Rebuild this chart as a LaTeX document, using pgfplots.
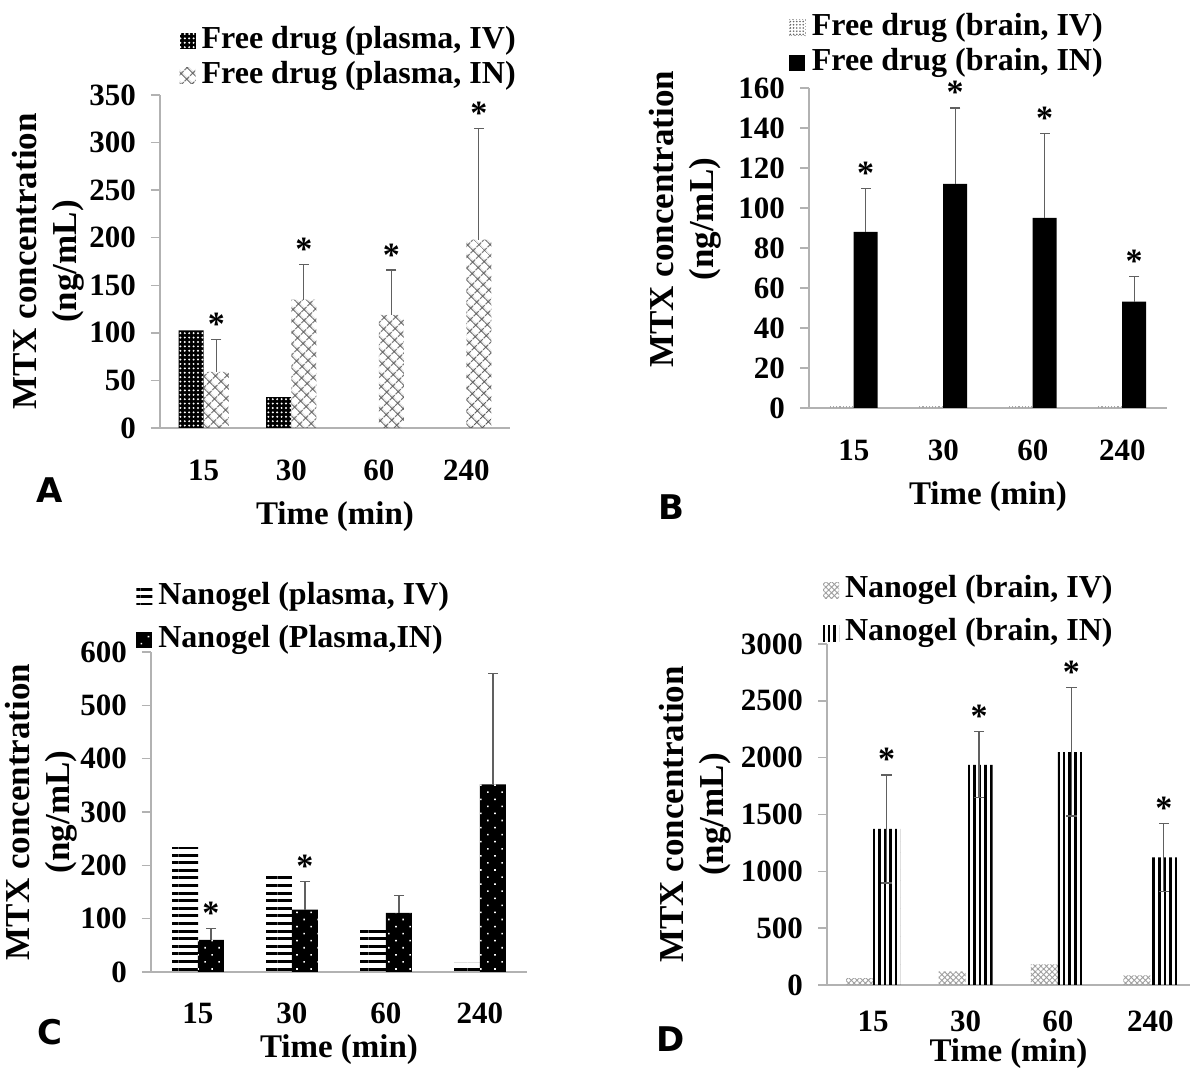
\documentclass[border=0pt]{standalone}
\usepackage{fontspec}
\setmainfont{Liberation Serif}
\newfontfamily\letterfont{DejaVu Sans}
\usepackage{pgfplots}
\pgfplotsset{compat=1.18}
\usetikzlibrary{patterns,patterns.meta}

\pgfplotsset{
  sqlegend/.style={legend image code/.code={\fill[##1] (0pt,-4pt) rectangle (8pt,4pt);}},
  errplus/.style={error bars/y dir=plus, error bars/y explicit,
    error bars/error bar style={draw=gray!75!black, line width=0.6pt, solid},
    error bars/error mark=none},
  errboth/.style={error bars/y dir=both, error bars/y explicit,
    error bars/error bar style={draw=gray!75!black, line width=0.6pt, solid},
    error bars/error mark=none},
  capmark/.style={forget plot, only marks, mark=-, mark size=2.6pt,
    mark options={draw=gray!75!black, line width=0.6pt, solid}},
  starmark/.style={forget plot, only marks, mark=text, text mark={*}, text mark as node=true,
    text mark style={anchor=base, inner sep=0pt, yshift=2pt, font=\fontsize{17}{17}\selectfont\bfseries}, mark options={black}},
  panel/.style={
    scale only axis, axis x line*=bottom, axis y line*=left,
    axis line style={draw=gray!60, line width=0.75pt},
    ytick style={draw=gray!60, line width=0.75pt},
    xtick style={draw=none},
    tick align=outside, major tick length=4.5pt,
    xmin=-0.5, xmax=3.5, ymin=0,
    xtick={0,1,2,3}, xticklabels={15,30,60,240},
    tick label style={font=\fontsize{15.5}{18}\selectfont\bfseries},
    /pgf/number format/assume math mode=true,
    /pgf/number format/1000 sep={},
    scaled y ticks=false,
    yticklabel style={anchor=east, xshift=-4pt},
    xticklabel style={anchor=center},
    xlabel={Time (min)},
    ylabel={MTX concentration\\(ng/mL)},
    ylabel style={align=center, anchor=center, font=\fontsize{17.5}{20}\selectfont\bfseries},
    xlabel style={anchor=center, font=\fontsize{16.5}{18}\selectfont\bfseries},
    legend style={draw=none, fill=none, anchor=west, inner sep=0pt,
      font=\fontsize{16}{18}\selectfont\bfseries, row sep=3pt,
      nodes={inner xsep=3pt, inner ysep=0pt, text height=11pt, text depth=3.5pt}},
    legend cell align=left,
  }
}

\begin{document}
\begin{tikzpicture}
\path[use as bounding box] (0,0) rectangle (595pt,534pt);
\fill[white] (0,0) rectangle (595pt,534pt);

% ---------------- Panel A ----------------
\begin{axis}[panel, at={(80pt,320pt)}, anchor=south west, width=175pt, height=166.5pt,
  ymax=350, ytick={0,50,...,350},
  xticklabel style={yshift=-16.5pt},
  xlabel style={at={(rel axis cs:0.5,0)}, yshift=-44.5pt},
  ylabel style={at={(rel axis cs:0,0.5)}, yshift=56pt},
  legend style={at={(0.055,1.111)}}]
\addplot[ybar, bar width=12.5pt, bar shift=0pt, draw=none, fill=black,
  postaction={pattern={Dots[distance=2.2pt,radius=0.55pt]}, pattern color=white}, sqlegend]
  coordinates {(-0.143,102.5) (0.857,32.4)};
\addlegendentry{Free drug (plasma, IV)}
\addplot[ybar, bar width=12.5pt, bar shift=0pt, draw=none,
  pattern={Hatch[angle=45,distance=4pt,line width=0.6pt]}, pattern color=gray!70!black, sqlegend, errplus]
  coordinates {(0.143,59) +- (0,34) (1.143,135) +- (0,37) (2.143,119) +- (0,47) (3.143,198) +- (0,117)};
\addlegendentry{Free drug (plasma, IN)}
\addplot[capmark] coordinates {(0.143,93) (1.143,172) (2.143,166) (3.143,315)};
\addplot[starmark] coordinates {(0.143,93) (1.143,172) (2.143,166) (3.143,315)};
\end{axis}

% ---------------- Panel B ----------------
\begin{axis}[panel, at={(404.5pt,330pt)}, anchor=south west, width=179pt, height=160pt,
  ymax=160, ytick={0,20,...,160},
  xticklabel style={yshift=-16.5pt},
  xlabel style={at={(rel axis cs:0.5,0)}, yshift=-44.5pt},
  ylabel style={at={(rel axis cs:0,0.59)}, yshift=62pt},
  legend style={at={(-0.058,1.134)}}]
\addplot[ybar, bar width=12pt, bar shift=0pt, draw=gray!70, densely dotted, line width=0.6pt,
  pattern={Dots[distance=1.8pt,radius=0.5pt]}, pattern color=gray!80,
  legend image code/.code={\fill[pattern={Dots[distance=1.6pt,radius=0.45pt]}, pattern color=gray!80!black] (0pt,-4pt) rectangle (8pt,4pt);}]
  coordinates {(-0.134,0.6) (0.866,0.6) (1.866,0.6) (2.866,0.6)};
\addlegendentry{Free drug (brain, IV)}
\addplot[ybar, bar width=12pt, bar shift=0pt, draw=none, fill=black, sqlegend, errplus]
  coordinates {(0.134,88) +- (0,21.7) (1.134,112) +- (0,38) (2.134,95) +- (0,42.2) (3.134,53.2) +- (0,12.4)};
\addlegendentry{Free drug (brain, IN)}
\addplot[capmark] coordinates {(0.134,109.7) (1.134,150) (2.134,137.2) (3.134,65.6)};
\addplot[starmark] coordinates {(0.134,109.7) (1.134,150) (2.134,137.2) (3.134,65.6)};
\end{axis}

% ---------------- Panel C ----------------
\begin{axis}[panel, at={(75.5pt,48pt)}, anchor=south west, width=188pt, height=160pt,
  ymax=600, ytick={0,100,...,600},
  xticklabel style={yshift=-16pt},
  xlabel style={at={(rel axis cs:0.5,0)}, yshift=-39pt},
  ylabel style={at={(rel axis cs:0,0.5)}, yshift=55pt},
  legend style={at={(-0.04,1.106)}, row sep=7pt}]
\addplot[ybar, bar width=13pt, bar shift=0pt, draw=none,
  pattern={Lines[distance=3.8pt,line width=1.5pt]}, pattern color=black, sqlegend]
  coordinates {(-0.138,234) (0.862,184) (1.862,81) (2.862,17)};
\addlegendentry{Nanogel (plasma, IV)}
\addplot[ybar, bar width=13pt, bar shift=0pt, draw=none, fill=black,
  postaction={pattern={Dots[distance=5pt,radius=0.55pt,angle=45]}, pattern color=white}, sqlegend, errplus]
  coordinates {(0.138,60) +- (0,22) (1.138,117) +- (0,53) (2.138,111) +- (0,33) (3.138,352) +- (0,207)};
\addlegendentry{Nanogel (Plasma,IN)}
\addplot[capmark] coordinates {(0.138,82) (1.138,170) (2.138,144) (3.138,559)};
\addplot[starmark] coordinates {(0.138,82) (1.138,170)};
\end{axis}

% ---------------- Panel D ----------------
\begin{axis}[panel, at={(413.5pt,41.5pt)}, anchor=south west, width=181.5pt, height=170.5pt,
  xmax=3.43, ymax=3000, ytick={0,500,...,3000},
  xticklabel style={yshift=-13.5pt},
  xlabel style={at={(rel axis cs:0.5,0)}, yshift=-34.5pt},
  ylabel style={at={(rel axis cs:0,0.5)}, yshift=66pt},
  legend style={at={(-0.012,1.094)}, row sep=7pt}]
\addplot[ybar, bar width=13.5pt, bar shift=0pt, draw=none,
  pattern={Hatch[angle=45,distance=2pt,line width=0.45pt]}, pattern color=gray!75, sqlegend]
  coordinates {(-0.146,60) (0.854,120) (1.854,181) (2.854,84)};
\addlegendentry{Nanogel (brain, IV)}
\addplot[ybar, bar width=13.5pt, bar shift=0pt, draw=none,
  pattern={Lines[angle=90,distance=2.8pt,line width=1.3pt]}, pattern color=black, sqlegend, errboth]
  coordinates {(0.146,1373) +- (0,475) (1.146,1937) +- (0,290) (2.146,2051) +- (0,565) (3.146,1123) +- (0,300)};
\addlegendentry{Nanogel (brain, IN)}
\addplot[capmark] coordinates {(0.146,1848) (1.146,2227) (2.146,2616) (3.146,1423)
  (0.146,898) (1.146,1647) (2.146,1486) (3.146,823)};
\addplot[starmark] coordinates {(0.146,1848) (1.146,2227) (2.146,2616) (3.146,1423)};
\end{axis}

% panel letters
\node[font=\letterfont\bfseries\fontsize{17}{17}\selectfont] at (25pt,289pt) {A};
\node[font=\letterfont\bfseries\fontsize{17}{17}\selectfont] at (335.5pt,280.5pt) {B};
\node[font=\letterfont\bfseries\fontsize{17}{17}\selectfont] at (25pt,18pt) {C};
\node[font=\letterfont\bfseries\fontsize{17}{17}\selectfont] at (335.5pt,14.5pt) {D};
\end{tikzpicture}
\end{document}
